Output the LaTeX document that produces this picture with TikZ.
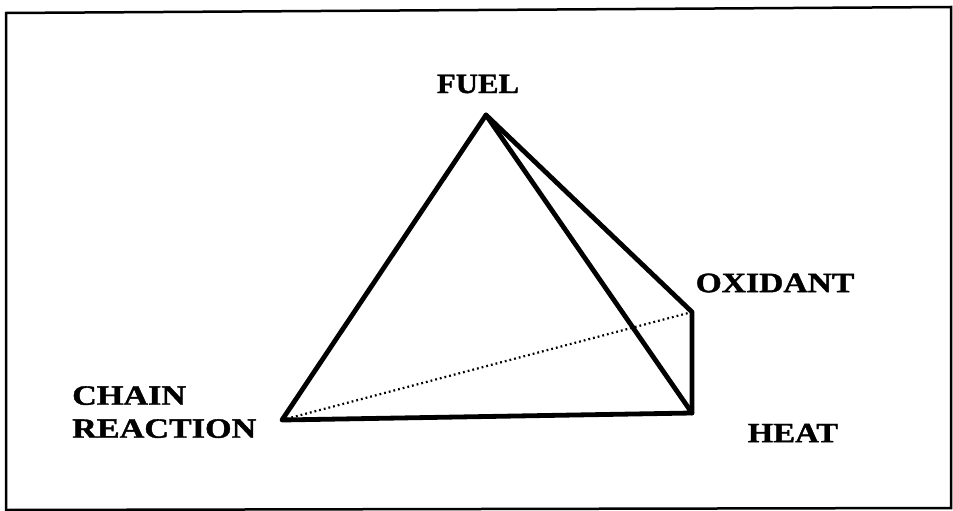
\documentclass[tikz,border=0pt]{standalone}
\usepackage{fontspec}
\setmainfont{Liberation Serif}
\newfontfamily\heavyfont[FakeBold=1.2]{Liberation Serif Bold}
\usepackage{graphicx}
\begin{document}
\begin{tikzpicture}[x=1pt,y=-1pt,
  edge/.style={line width=4.8pt,line join=round,line cap=round},
  hidden/.style={line width=2.2pt,dash pattern=on 1.8pt off 3pt},
  lbl/.style={font=\fontsize{28}{33}\heavyfont,inner sep=0pt}]
\useasboundingbox (0,0) rectangle (953,511);
\draw[line width=2.5pt] (6,13) -- (951,7) -- (951,508) -- (6,510) -- cycle;
\coordinate (F) at (486,115);
\coordinate (C) at (282,420);
\coordinate (H) at (692,413);
\coordinate (O) at (692,312);
\draw[hidden] (C) -- (O);
\draw[edge] (C) -- (F) -- (H) -- cycle;
\draw[edge] (F) -- (O) -- (H);
\node[lbl] (fuel) at (478,84) {\scalebox{1.1}[1]{FUEL}};
\node[lbl] (oxid) at (775,283) {\scalebox{1.2}[1]{OXIDANT}};
\node[lbl] (heat) at (793,433) {\scalebox{1.17}[1]{HEAT}};
\node[lbl,anchor=north west,align=left] (chain) at (72,386) {\scalebox{1.22}[1]{CHAIN}\\\scalebox{1.22}[1]{REACTION}};
\end{tikzpicture}
\end{document}
